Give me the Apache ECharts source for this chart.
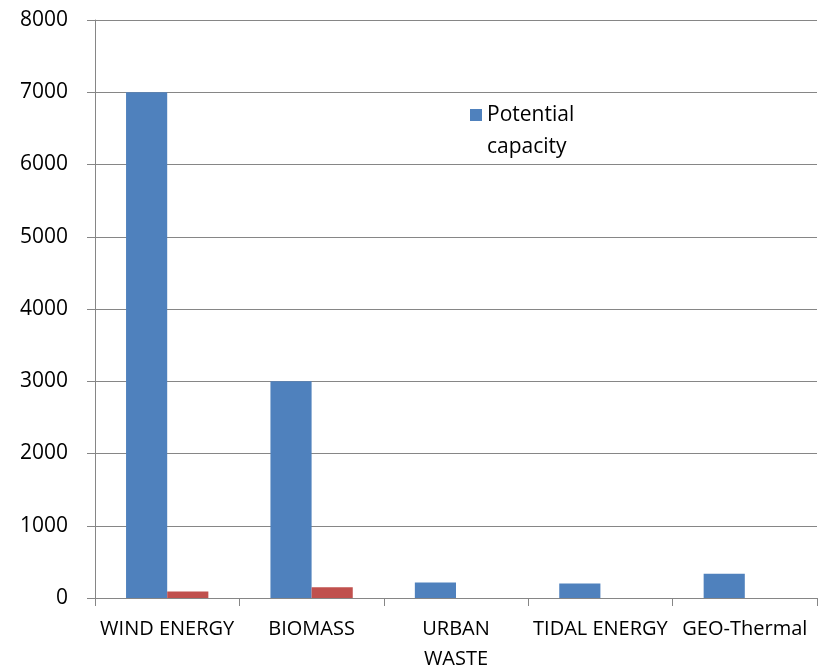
<!DOCTYPE html>
<html>
<head>
<meta charset="utf-8">
<style>
  html, body { margin: 0; padding: 0; background: #ffffff; }
  #chart { width: 823px; height: 667px; }
</style>
<script src="https://cdn.jsdelivr.net/npm/echarts@6/dist/echarts.min.js"></script>
</head>
<body>
<div id="chart"></div>
<script>
// Renewable energy sources and their capacities
const categories = ['WIND ENERGY', 'BIOMASS', 'URBAN\nWASTE', 'TIDAL ENERGY', 'GEO-Thermal'];
const potentialCapacity = [7000, 3000, 215, 200, 335];
const installedCapacity = [90, 150, 0, 0, 0];
const yTicks = { min: 0, max: 8000, interval: 1000 };

const FONT = 'Open Sans';
const axisGrey = '#868686';

const chart = echarts.init(document.getElementById('chart'), null, { renderer: 'canvas' });
chart.setOption({
  animation: false,
  backgroundColor: '#ffffff',
  textStyle: { fontFamily: FONT },
  grid: { left: 95, right: 6, top: 20, bottom: 69, containLabel: false, outerBoundsMode: 'none' },
  legend: {
    data: ['Potential capacity'],
    left: 465,
    top: 62,
    itemWidth: 12,
    itemHeight: 12,
    icon: 'rect',
    // leading blank line keeps the swatch level with the first word
    formatter: () => ' \nPotential\ncapacity',
    textStyle: { fontFamily: FONT, fontSize: 21, color: '#000', lineHeight: 32 }
  },
  xAxis: {
    type: 'category',
    data: categories,
    axisLine: { show: true, lineStyle: { color: axisGrey, width: 1 } },
    axisTick: { show: true, length: 8, lineStyle: { color: axisGrey } },
    axisLabel: {
      interval: 0,
      margin: 16.5,
      color: '#000',
      fontFamily: FONT,
      fontSize: 20,
      lineHeight: 30
    },
    splitLine: { show: false }
  },
  yAxis: {
    type: 'value',
    min: yTicks.min,
    max: yTicks.max,
    interval: yTicks.interval,
    axisLine: { show: true, lineStyle: { color: axisGrey, width: 1 } },
    axisTick: { show: true, inside: false, length: 8, lineStyle: { color: axisGrey } },
    axisLabel: { margin: 27, color: '#000', fontFamily: FONT, fontSize: 21, formatter: v => String(v) },
    splitLine: { show: true, lineStyle: { color: axisGrey, width: 1 } }
  },
  series: [
    {
      name: 'Potential capacity',
      type: 'bar',
      data: potentialCapacity,
      itemStyle: { color: '#4F81BD' },
      barGap: '0%',
      barCategoryGap: '43%'
    },
    {
      name: 'Installed capacity',
      type: 'bar',
      data: installedCapacity,
      itemStyle: { color: '#C0504D' }
    }
  ]
});
</script>
</body>
</html>
